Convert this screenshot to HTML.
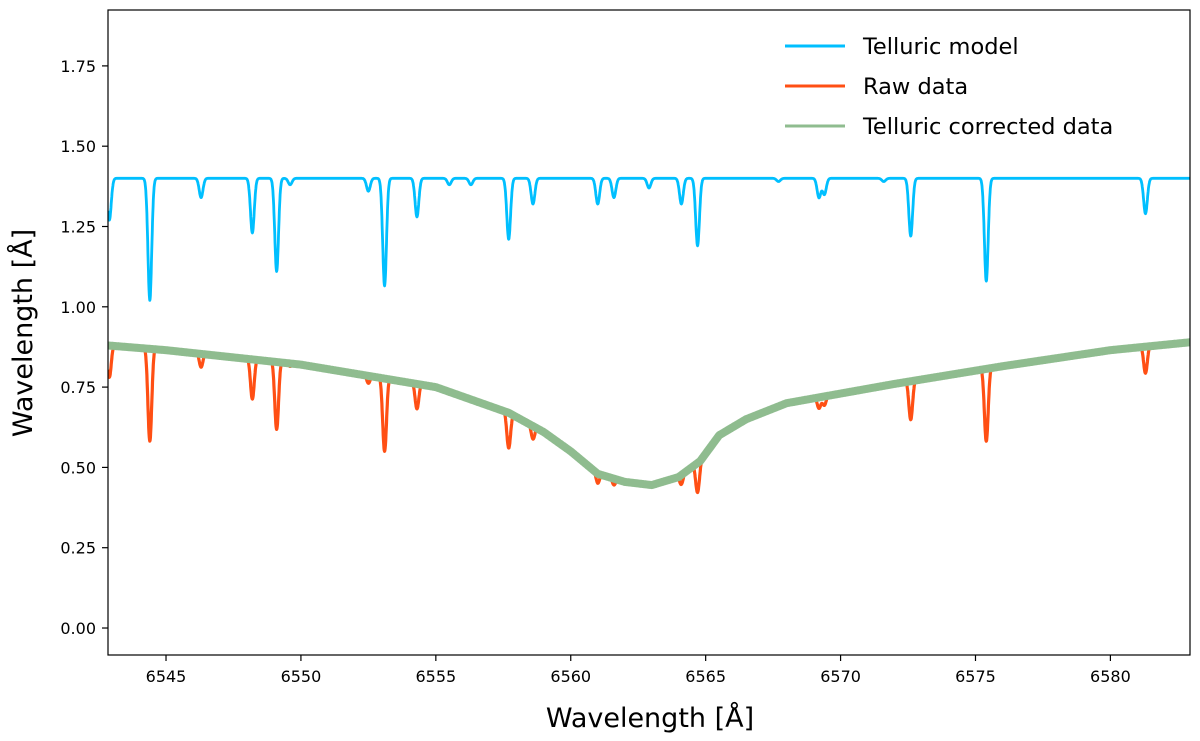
<!DOCTYPE html>
<html><head><meta charset="utf-8"><style>
body{margin:0;background:#fff;}
svg{display:block;font-family:"DejaVu Sans","Liberation Sans",sans-serif;}
</style></head><body>
<svg id="chart" width="1200" height="741">
<g id="plot"></g>
<rect x="108" y="10" width="1082" height="645" fill="none" stroke="#000" stroke-width="1.2"/>
<g id="axes"></g>
<text x="650" y="727" text-anchor="middle" font-size="27">Wavelength [Å]</text>
<text transform="translate(32,333) rotate(-90)" text-anchor="middle" font-size="27">Wavelength [Å]</text>
<g>
<line x1="785" y1="46" x2="845" y2="46" stroke="#00bfff" stroke-width="3"/>
<text x="863" y="54" font-size="22.5">Telluric model</text>
<line x1="785" y1="86" x2="845" y2="86" stroke="#ff4f14" stroke-width="3"/>
<text x="863" y="94" font-size="22.5">Raw data</text>
<line x1="785" y1="126" x2="845" y2="126" stroke="#8fbc8f" stroke-width="3"/>
<text x="863" y="134" font-size="22.5">Telluric corrected data</text>
</g>
</svg>
<script>
const xTicks=[6545,6550,6555,6560,6565,6570,6575,6580];
const yTicks=[0,0.25,0.5,0.75,1.0,1.25,1.5,1.75];
const yTickLabels=["0.00","0.25","0.50","0.75","1.00","1.25","1.50","1.75"];
const tellContinuum=1.40;
const lineCenters=[6542.9,6544.4,6546.3,6548.2,6549.1,6549.6,6552.5,6553.1,6554.3,6555.5,6556.3,6557.7,6558.6,6561.0,6561.6,6562.9,6564.1,6564.7,6567.7,6569.2,6569.4,6571.6,6572.6,6575.4,6581.3];
const lineDepths=[0.13,0.38,0.06,0.17,0.29,0.02,0.04,0.335,0.12,0.02,0.02,0.19,0.08,0.08,0.06,0.03,0.08,0.21,0.01,0.06,0.05,0.01,0.18,0.32,0.11];
const profWave=[6542.8,6545,6550,6555,6557.7,6559,6560,6561,6562,6563,6564,6564.8,6565.5,6566.5,6568,6572,6576,6580,6583];
const profFlux=[0.88,0.865,0.82,0.75,0.67,0.61,0.55,0.48,0.455,0.445,0.47,0.52,0.60,0.65,0.70,0.76,0.815,0.865,0.89];
const X0=6542.85,X1=6582.95,Y0=-0.084,Y1=1.924;
const L=108,R=1190,T=10,B=655;
const sx=v=>L+(v-X0)/(X1-X0)*(R-L);
const sy=v=>B-(v-Y0)/(Y1-Y0)*(B-T);
const NS="http://www.w3.org/2000/svg";
const axes=document.getElementById('axes'),plot=document.getElementById('plot');
function mk(tag,attrs,parent){const e=document.createElementNS(NS,tag);for(const k in attrs)e.setAttribute(k,attrs[k]);parent.appendChild(e);return e;}
xTicks.forEach(t=>{
 const l=mk('line',{x1:sx(t),x2:sx(t),y1:B,y2:B+6,stroke:'#000','stroke-width':1.2},axes);
 
 
 const tx=mk('text',{x:sx(t),y:B+27,'text-anchor':'middle','font-size':16},axes);tx.textContent=t;
 
 
});
yTicks.forEach((t,i)=>{
 const l=mk('line',{x1:L-6,x2:L,y1:sy(t),y2:sy(t),stroke:'#000','stroke-width':1.2},axes);
 
 
 const tx=mk('text',{x:L-12,y:sy(t)+6,'text-anchor':'end','font-size':16},axes);tx.textContent=yTickLabels[i];
 
 
});
function tell(w){let f=tellContinuum;for(let i=0;i<lineCenters.length;i++){const d=(w-lineCenters[i])/0.07;f-=lineDepths[i]*Math.exp(-d*d/2);}return f;}
function prof(w){for(let i=0;i<profWave.length-1;i++){if(w<=profWave[i+1]){const a=profWave[i],b=profWave[i+1],t=(w-a)/(b-a);return profFlux[i]+(profFlux[i+1]-profFlux[i])*t;}}return profFlux[profFlux.length-1];}
let pt=[],pr=[],pc=[];
for(let w=X0;w<=X1;w+=0.01){
 const t=tell(w),p=prof(w),r=t/tellContinuum;
 pt.push(sx(w).toFixed(1)+','+sy(t).toFixed(1));
 pr.push(sx(w).toFixed(1)+','+sy(p*Math.pow(r,1.3)+0.006).toFixed(1));
 pc.push(sx(w).toFixed(1)+','+sy(p).toFixed(1));
}
const clip=mk('clipPath',{id:'cp'},plot);mk('rect',{x:L,y:T,width:R-L,height:B-T},clip);
const g=mk('g',{'clip-path':'url(#cp)'},plot);
const a=mk('polyline',{points:pt.join(' '),fill:'none',stroke:'#00bfff','stroke-width':2.8,'stroke-linejoin':'round'},g);


const b=mk('polyline',{points:pr.join(' '),fill:'none',stroke:'#ff4f14','stroke-width':3.2,'stroke-linejoin':'round'},g);


const c=mk('polyline',{points:pc.join(' '),fill:'none',stroke:'#8fbc8f','stroke-width':8,'stroke-linejoin':'round'},g);


</script>
</body></html>
